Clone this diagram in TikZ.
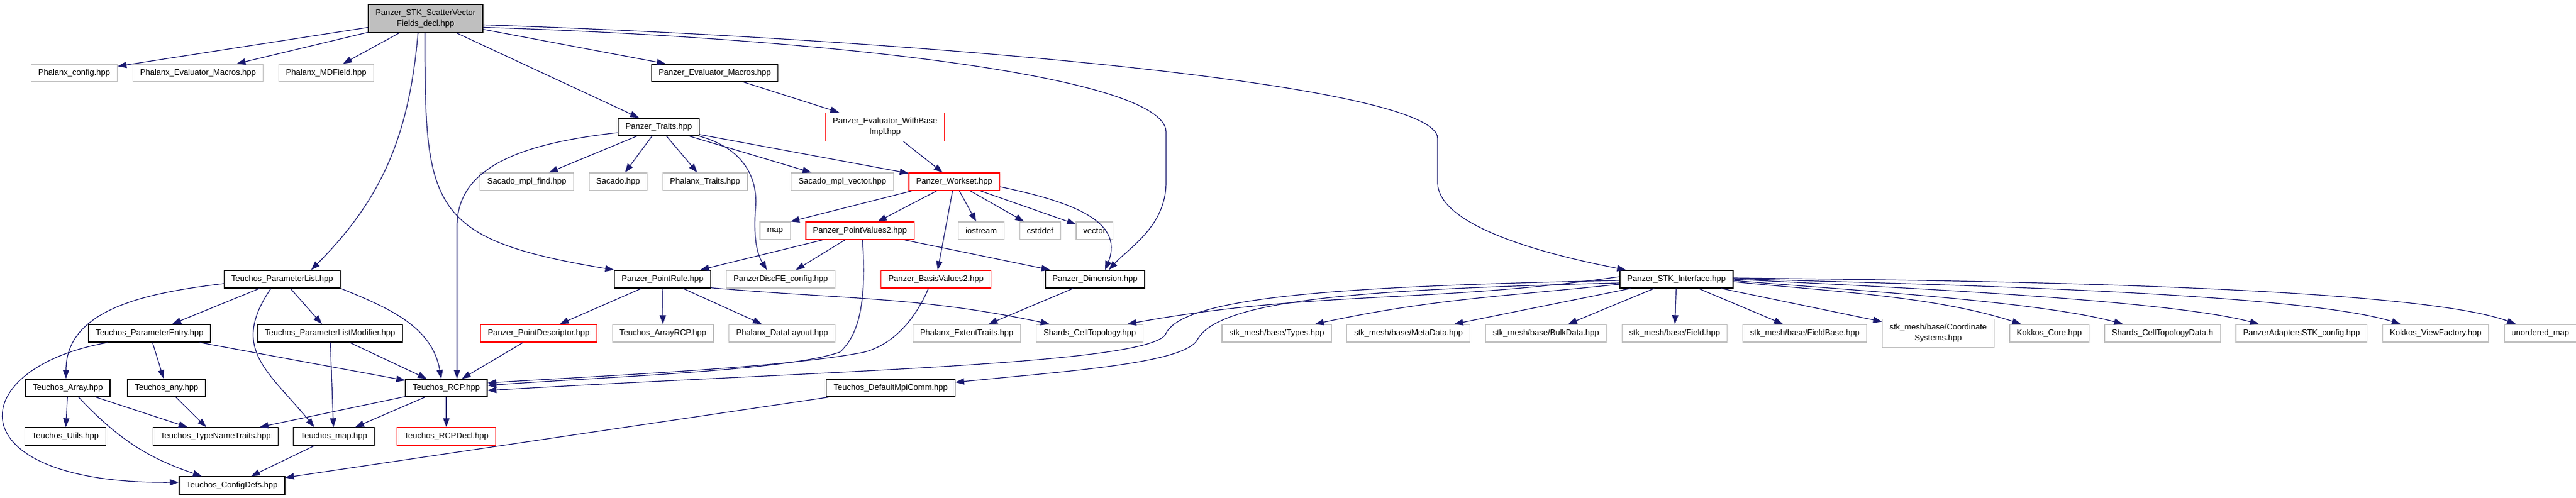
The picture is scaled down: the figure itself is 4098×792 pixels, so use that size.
\documentclass[tikz,border=0pt]{standalone}
\usepackage{fontspec}
\setmainfont{Liberation Sans}
\usetikzlibrary{positioning}
\usetikzlibrary{arrows.meta}

\definecolor{edgeblue}{HTML}{191970}
\definecolor{extgray}{HTML}{BFBFBF}
\definecolor{cutred}{HTML}{FF0000}

\begin{document}
\begin{tikzpicture}[x=1pt, y=1pt, node distance=23.5pt,
  >={Triangle[length=14pt,width=10pt]},
  every node/.style={font=\fontsize{13}{17}\selectfont, rectangle, inner xsep=11.5pt, inner ysep=8pt, minimum height=28pt, fill=white, line width=1.3pt, align=center},
  docnode/.style={draw=black},
  extnode/.style={draw=extgray},
  cutnode/.style={draw=cutred},
  rootnode/.style={draw=black, fill=extgray},
  incl/.style={->, draw=edgeblue, line width=1.2pt}]
\useasboundingbox[fill=white] (0,0) rectangle (4098,-792);

\node[rootnode] (ROOT) at (677,-29.5) {Panzer\_STK\_ScatterVector\\Fields\_decl.hpp};
\node[extnode] (PC) at (118,-116) {Phalanx\_config.hpp};
\node[extnode] (PEM) [right=of PC] {Phalanx\_Evaluator\_Macros.hpp};
\node[extnode] (MDF) [right=of PEM] {Phalanx\_MDField.hpp};
\node[docnode] (PEVM) at (1137,-116) {Panzer\_Evaluator\_Macros.hpp};
\node[docnode] (TR) at (1048,-202) {Panzer\_Traits.hpp};
\node[cutnode] (WBI) at (1408,-202) {Panzer\_Evaluator\_WithBase\\Impl.hpp};
\node[extnode] (SMF) at (838,-289) {Sacado\_mpl\_find.hpp};
\node[extnode] (SAC) [right=of SMF] {Sacado.hpp};
\node[extnode] (PTR) [right=of SAC] {Phalanx\_Traits.hpp};
\node[extnode] (SMV) at (1340,-289) {Sacado\_mpl\_vector.hpp};
\node[cutnode] (WS) [right=of SMV] {Panzer\_Workset.hpp};
\node[extnode] (MAP) at (1233,-367) {map};
\node[cutnode] (PV2) [right=of MAP] {Panzer\_PointValues2.hpp};
\node[extnode] (IOS) at (1561,-367) {iostream};
\node[extnode] (CSD) [right=of IOS] {cstddef};
\node[extnode] (VEC) [right=of CSD] {vector};
\node[docnode] (PL) at (449,-444) {Teuchos\_ParameterList.hpp};
\node[docnode] (PR) at (1054,-444) {Panzer\_PointRule.hpp};
\node[extnode] (DFE) [right=of PR] {PanzerDiscFE\_config.hpp};
\node[cutnode] (BV2) at (1489,-444) {Panzer\_BasisValues2.hpp};
\node[docnode] (DIM) at (1742,-444) {Panzer\_Dimension.hpp};
\node[docnode] (STKI) at (2667,-444) {Panzer\_STK\_Interface.hpp};
\node[docnode] (PE) at (238,-530) {Teuchos\_ParameterEntry.hpp};
\node[docnode] (PLM) at (525,-530) {Teuchos\_ParameterListModifier.hpp};
\node[cutnode] (PD) at (857,-530) {Panzer\_PointDescriptor.hpp};
\node[extnode] (ARCP) [right=of PD] {Teuchos\_ArrayRCP.hpp};
\node[extnode] (DL) [right=of ARCP] {Phalanx\_DataLayout.hpp};
\node[extnode] (ET) at (1538,-530) {Phalanx\_ExtentTraits.hpp};
\node[extnode] (SCT) [right=of ET] {Shards\_CellTopology.hpp};
\node[extnode] (TYP) at (2031,-530) {stk\_mesh/base/Types.hpp};
\node[extnode] (META) [right=of TYP] {stk\_mesh/base/MetaData.hpp};
\node[extnode] (BULK) [right=of META] {stk\_mesh/base/BulkData.hpp};
\node[extnode] (FLD) [right=of BULK] {stk\_mesh/base/Field.hpp};
\node[extnode] (FB) [right=of FLD] {stk\_mesh/base/FieldBase.hpp};
\node[extnode] (CS) [right=of FB] {stk\_mesh/base/Coordinate\\Systems.hpp};
\node[extnode] (KC) [right=of CS] {Kokkos\_Core.hpp};
\node[extnode] (SCTD) [right=of KC] {Shards\_CellTopologyData.h};
\node[extnode] (ASC) [right=of SCTD] {PanzerAdaptersSTK\_config.hpp};
\node[extnode] (KVF) [right=of ASC] {Kokkos\_ViewFactory.hpp};
\node[extnode] (UMAP) [right=of KVF] {unordered\_map};
\node[docnode] (ARR) at (108,-617) {Teuchos\_Array.hpp};
\node[docnode] (ANY) at (265,-617) {Teuchos\_any.hpp};
\node[docnode] (RCP) at (710,-617) {Teuchos\_RCP.hpp};
\node[docnode] (MPI) at (1417,-617) {Teuchos\_DefaultMpiComm.hpp};
\node[docnode] (UTL) at (104,-694) {Teuchos\_Utils.hpp};
\node[docnode] (TNT) at (343,-694) {Teuchos\_TypeNameTraits.hpp};
\node[docnode] (TMAP) at (531,-694) {Teuchos\_map.hpp};
\node[cutnode] (RCPD) at (710,-694) {Teuchos\_RCPDecl.hpp};
\node[docnode] (CFG) at (369,-772) {Teuchos\_ConfigDefs.hpp};

\draw[incl] (ROOT) -- (PC);
\draw[incl] (ROOT) -- (PEM);
\draw[incl] (ROOT) -- (MDF);
\draw[incl] ([xshift=-12pt]ROOT.south) to[out=-95,in=45] ([xshift=46pt]PL.north);
\draw[incl] ([xshift=-1pt]ROOT.south) .. controls (676,-330) and (680,-380) .. (PR.north west);
\draw[incl] (ROOT) -- (TR);
\draw[incl] (ROOT) -- (PEVM);
\draw[incl] ([yshift=-14pt]ROOT.east) .. controls (1300,-60) and (1855,-120) .. (1855,-210) -- (1855,-290) .. controls (1855,-360) and (1795,-395) .. ([xshift=22pt]DIM.north);
\draw[incl] ([yshift=-10pt]ROOT.east) .. controls (1400,-60) and (2287,-130) .. (2287,-220) -- (2287,-290) .. controls (2287,-360) and (2460,-405) .. ([xshift=10pt]STKI.north west);

\draw[incl] ([yshift=-9pt]TR.west) .. controls (830,-228) and (727,-265) .. (727,-360) -- ([xshift=17pt]RCP.north);
\draw[incl] (TR) -- (SMF);
\draw[incl] (TR) -- (SAC);
\draw[incl] (TR) -- (PTR);
\draw[incl] (TR) -- (SMV);
\draw[incl] (TR) -- (WS);
\draw[incl] (TR.south east) .. controls (1180,-235) and (1206,-280) .. (1202,-330) .. controls (1198,-380) and (1205,-405) .. ([xshift=-22pt]DFE.north);
\draw[incl] (PEVM) -- (WBI);
\draw[incl] (WBI) -- (WS);

\draw[incl] ([xshift=-68pt]WS.south) -- (MAP.north east);
\draw[incl] (WS) -- (PV2);
\draw[incl] (WS) -- (BV2);
\draw[incl] (WS) -- (IOS);
\draw[incl] (WS) -- (CSD);
\draw[incl] (WS) -- (VEC);
\draw[incl] ([yshift=-8pt]WS.east) .. controls (1700,-320) and (1790,-350) .. ([xshift=16pt]DIM.north);

\draw[incl] (PV2) -- (PR);
\draw[incl] (PV2) -- (DFE);
\draw[incl] ([xshift=4pt]PV2.south) .. controls (1378,-470) and (1370,-530) .. (1336,-560) .. controls (1250,-590) and (950,-600) .. ([yshift=4pt]RCP.east);
\draw[incl] (PV2) -- (DIM);
\draw[incl] (PR) -- (PD);
\draw[incl] (PR) -- (ARCP);
\draw[incl] (PR) -- (DL);
\draw[incl] ([yshift=1pt]PR.south east) to[out=-5,in=168] ([xshift=-64pt]SCT.north);
\draw[incl] (PD) -- (RCP);
\draw[incl] ([xshift=-12pt]BV2.south) .. controls (1455,-510) and (1420,-548) .. (1375,-560) .. controls (1250,-585) and (950,-598) .. ([yshift=8pt]RCP.east);
\draw[incl] (DIM) -- (ET);

\draw[incl] ([yshift=4pt]STKI.west) .. controls +(-303,-43) and +(299,54) .. ([xshift=60pt]SCT.north);
\draw[incl] ([yshift=-2pt]STKI.west) .. controls (2150,-455) and (1885,-470) .. (1855,-530) .. controls (1838,-580) and (1300,-590) .. ([yshift=-4pt]RCP.east);
\draw[incl] ([yshift=-6pt]STKI.west) .. controls (2180,-460) and (1940,-475) .. (1905,-540) .. controls (1885,-578) and (1700,-590) .. ([yshift=9pt]MPI.east);
\draw[incl] ([yshift=-8pt]STKI.west) .. controls +(-190,-20) and +(188,40) .. ([xshift=61pt]TYP.north);
\draw[incl] (STKI) -- (META);
\draw[incl] (STKI) -- (BULK);
\draw[incl] (STKI) -- (FLD);
\draw[incl] (STKI) -- (FB);
\draw[incl] (STKI) -- (CS);
\draw[incl] ([yshift=-4pt]STKI.east) .. controls +(146,-15) and +(-139,45) .. ([xshift=-45pt]KC.north);
\draw[incl] ([yshift=-2pt]STKI.east) .. controls +(146,-13) and +(-142,38) .. ([xshift=-63pt]SCTD.north);
\draw[incl] (STKI.east) .. controls +(164,-9) and +(-158,42) .. ([xshift=-68pt]ASC.north);
\draw[incl] ([yshift=1pt]STKI.east) .. controls +(187,-7) and +(-179,55) .. ([xshift=-56pt]KVF.north);
\draw[incl] ([yshift=2pt]STKI.east) .. controls +(195,-3) and +(-183,67) .. ([xshift=-39pt]UMAP.north);

\draw[incl] ([yshift=-7pt]PL.west) to[out=187,in=90] ([xshift=-3pt]ARR.north);
\draw[incl] (PL) -- (PE);
\draw[incl] ([xshift=-18pt]PL.south) .. controls (365,-555) and (427,-590) .. ([xshift=-31pt]TMAP.north);
\draw[incl] (PL) -- (PLM);
\draw[incl] (PL.south east) to[out=-22,in=100] ([xshift=-8pt]RCP.north);
\draw[incl] ([xshift=-66pt]PE.south) .. controls (-60,-585) and (-75,-770) .. ([yshift=5pt]CFG.west);
\draw[incl] (PE) -- (ANY);
\draw[incl] (PE) -- (RCP);
\draw[incl] (PLM) -- (TMAP);
\draw[incl] (PLM) -- (RCP);
\draw[incl] (ARR) -- (UTL);
\draw[incl] ([xshift=17pt]ARR.south) to[bend right=14] ([xshift=-48pt]CFG.north);
\draw[incl] (ARR) -- (TNT);
\draw[incl] (ANY) -- (TNT);
\draw[incl] (RCP) -- (TNT);
\draw[incl] (RCP) -- (TMAP);
\draw[incl] (RCP) -- (RCPD);
\draw[incl] (TMAP) -- (CFG);
\draw[incl] (MPI) -- (CFG);
\end{tikzpicture}
\end{document}
